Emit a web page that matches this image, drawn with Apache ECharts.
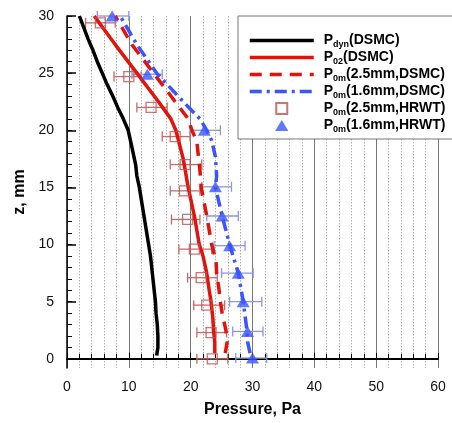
<!DOCTYPE html>
<html>
<head>
<meta charset="utf-8">
<script src="https://cdn.jsdelivr.net/npm/echarts@6/dist/echarts.min.js"></script>
<style>
html, body { margin: 0; padding: 0; background: #fff; }
#main { width: 452px; height: 423px; }
</style>
</head>
<body>
<div id="main"></div>
<script>
// P_dyn (DSMC)
var dynZ = [0.3, 1, 2, 3, 4, 5, 6, 7, 8, 9, 10, 11, 12, 13, 14, 15, 16, 17, 18, 19, 20, 21, 22, 23, 24, 25, 26, 27, 28, 29, 30];
var dynP = [14.5, 14.7, 14.7, 14.6, 14.4, 14.3, 14.1, 13.9, 13.7, 13.5, 13.2, 12.9, 12.6, 12.3, 12.0, 11.7, 11.3, 11.1, 10.7, 10.3, 9.9, 9.1, 8.2, 7.4, 6.5, 5.7, 4.9, 4.2, 3.4, 2.7, 2.0];
// P_02 (DSMC)
var p02Z = [0.5, 1.5, 2.5, 3.5, 5, 6, 7.5, 9, 10, 12.5, 15, 17.5, 20, 21, 22.5, 25, 27.5, 30];
var p02P = [23.9, 23.9, 23.7, 23.6, 23.3, 23.0, 22.6, 22.0, 21.4, 20.6, 19.6, 18.8, 17.6, 16.8, 14.8, 11.3, 7.8, 4.4];
// P_0m 2.5mm (DSMC)
var m25Z = [0.5, 1.5, 2.5, 4, 5, 6, 7.5, 8.6, 10, 12.5, 15, 16.5, 17.5, 19, 20, 21, 22.5, 25, 27.5, 30];
var m25P = [25.6, 25.9, 25.7, 25.1, 24.8, 24.6, 24.2, 24.1, 23.4, 22.6, 21.7, 21.5, 21.3, 21.0, 20.2, 19.6, 17.5, 14.0, 10.5, 7.8];
// P_0m 1.6mm (DSMC)
var m16Z = [0.5, 1.5, 2.5, 5, 7.5, 10, 12.5, 15, 16, 17.7, 19.1, 20, 21, 22.5, 25, 27.5, 30];
var m16P = [29.6, 29.2, 29.1, 28.5, 27.7, 26.3, 25.1, 24.0, 24.2, 24.0, 23.4, 22.6, 21.5, 18.8, 14.5, 11.3, 8.6];
// P_0m 2.5mm (HRWT) with error bars
var sqZ = [29.4, 24.7, 22.0, 19.45, 17.0, 14.7, 12.2, 9.6, 7.1, 4.7, 2.3, 0.0];
var sqP = [5.4, 10.0, 13.6, 17.5, 19.1, 19.0, 19.5, 20.6, 21.7, 22.6, 23.3, 23.5];
var sqLo = [3.0, 7.6, 11.3, 15.4, 16.7, 16.7, 16.9, 18.1, 19.5, 20.5, 21.0, 21.0];
var sqHi = [7.8, 12.0, 16.2, 19.9, 21.8, 21.5, 21.5, 23.4, 24.3, 25.5, 25.8, 26.0];
// P_0m 1.6mm (HRWT) with error bars
var triZ = [30.0, 24.9, 20.0, 15.05, 12.5, 9.9, 7.5, 5.0, 2.4, 0.07];
var triP = [7.3, 13.0, 22.2, 24.0, 25.1, 26.3, 27.7, 28.5, 29.2, 30.0];
var triLo = [4.9, 10.5, 19.9, 21.8, 22.6, 23.8, 25.0, 26.3, 26.8, 27.3];
var triHi = [10.0, 15.4, 24.8, 26.6, 27.7, 28.8, 30.1, 31.5, 31.7, 32.3];

var xTicks = [0, 10, 20, 30, 40, 50, 60];
var yTicks = [0, 5, 10, 15, 20, 25, 30];
var yMinor = [];
for (var i = 0; i <= 30; i++) yMinor.push(i);

var RED = '#e3120b', BLUE = '#3a55ff';

function pairs(p, z) {
	return p.map(function(v, i) { return [v, z[i]]; });
}
function errData(z, lo, hi) {
	return z.map(function(v, i) { return [z[i], lo[i], hi[i]]; });
}
function errRender(color) {
	return function(params, api) {
		var z = api.value(0);
		var a = api.coord([api.value(1), z]);
		var b = api.coord([api.value(2), z]);
		var h = 5;
		var st = { stroke: color, lineWidth: 1.3 };
		return {
			type: 'group',
			children: [
				{ type: 'line', shape: { x1: a[0], y1: a[1], x2: b[0], y2: b[1] }, style: st },
				{ type: 'line', shape: { x1: a[0], y1: a[1] - h, x2: a[0], y2: a[1] + h }, style: st },
				{ type: 'line', shape: { x1: b[0], y1: b[1] - h, x2: b[0], y2: b[1] + h }, style: st }
			]
		};
	};
}

var legendRich = {
	m: { fontSize: 14, fontWeight: 'bold', fontFamily: 'Liberation Sans', color: '#000', lineHeight: 14 },
	s: { fontSize: 9, fontWeight: 'bold', fontFamily: 'Liberation Sans', color: '#000', lineHeight: 10, padding: [8, 0, 0, 0] }
};
var legendText = {
	'Pdyn(DSMC)': '{m|P}{s|dyn}{m|(DSMC)}',
	'P02(DSMC)': '{m|P}{s|02}{m|(DSMC)}',
	'P0m(2.5mm,DSMC)': '{m|P}{s|0m}{m|(2.5mm,DSMC)}',
	'P0m(1.6mm,DSMC)': '{m|P}{s|0m}{m|(1.6mm,DSMC)}',
	'P0m(2.5mm,HRWT)': '{m|P}{s|0m}{m|(2.5mm,HRWT)}',
	'P0m(1.6mm,HRWT)': '{m|P}{s|0m}{m|(1.6mm,HRWT)}'
};
var noDot = { color: 'rgba(0,0,0,0)', borderColor: 'rgba(0,0,0,0)', borderWidth: 0, opacity: 0 };

var chart = echarts.init(document.getElementById('main'));
chart.setOption({
	animation: false,
	backgroundColor: '#fff',
	grid: { left: 67, right: 14, top: 16, bottom: 46 },
	legend: {
		left: 238,
		top: 16,
		orient: 'vertical',
		backgroundColor: '#fff',
		borderColor: '#777',
		borderWidth: 1,
		padding: [16, 11, 5, 10],
		itemGap: 0,
		itemWidth: 64,
		itemHeight: 11,
		lineStyle: { width: 3.5 },
		data: [
			{ name: 'Pdyn(DSMC)', itemStyle: noDot },
			{ name: 'P02(DSMC)', itemStyle: noDot },
			{ name: 'P0m(2.5mm,DSMC)', itemStyle: noDot },
			{ name: 'P0m(1.6mm,DSMC)', itemStyle: noDot },
			{ name: 'P0m(2.5mm,HRWT)', icon: 'path://M0,0H10V10H0Z' },
			{ name: 'P0m(1.6mm,HRWT)', icon: 'path://M6,0L12,10H0Z' }
		],
		formatter: function(name) { return legendText[name]; },
		textStyle: { rich: legendRich, padding: [0, 0, 0, 5] }
	},
	xAxis: {
		type: 'value',
		min: 0,
		max: 60,
		interval: 10,
		name: 'Pressure, Pa',
		nameLocation: 'middle',
		nameGap: 34,
		nameTextStyle: { fontSize: 16, fontWeight: 'bold', fontFamily: 'Liberation Sans', color: '#000' },
		axisLine: { lineStyle: { color: '#000', width: 2 } },
		axisTick: { inside: true, length: 6, lineStyle: { color: '#000' } },
		minorTick: { show: true, splitNumber: 5, length: 5, lineStyle: { color: '#000' } },
		axisLabel: { fontSize: 14, fontFamily: 'Liberation Sans', color: '#111', margin: 12 },
		splitLine: { show: true, lineStyle: { color: '#777', width: 1 } },
		minorSplitLine: { show: true, lineStyle: { color: '#b0b0b0', type: [1.5, 1.5], width: 1 } }
	},
	yAxis: [{
		type: 'value',
		min: -0.8,
		max: 30,
		name: 'z, mm',
		nameLocation: 'middle',
		nameGap: 32,
		nameTextStyle: { fontSize: 16, fontWeight: 'bold', fontFamily: 'Liberation Sans', color: '#000' },
		axisLine: { show: true, lineStyle: { color: '#000', width: 1.5 } },
		axisTick: { show: true, inside: true, length: 9, customValues: yTicks, lineStyle: { color: '#000', width: 1.5 } },
		axisLabel: { fontSize: 14, fontFamily: 'Liberation Sans', color: '#111', margin: 13, customValues: yTicks },
		splitLine: { show: false }
	}, {
		type: 'value',
		position: 'left',
		min: -0.8,
		max: 30,
		axisLine: { show: false },
		axisTick: { show: true, inside: true, length: 5, customValues: yMinor, lineStyle: { color: '#000' } },
		axisLabel: { show: false },
		splitLine: { show: false }
	}],
	series: [{
		name: 'sqErr',
		type: 'custom',
		renderItem: errRender('#c96a6a'),
		encode: { x: [1, 2], y: 0 },
		data: errData(sqZ, sqLo, sqHi),
		z: 1
	}, {
		name: 'triErr',
		type: 'custom',
		renderItem: errRender('#8a96e6'),
		encode: { x: [1, 2], y: 0 },
		data: errData(triZ, triLo, triHi),
		z: 1
	}, {
		name: 'Pdyn(DSMC)',
		type: 'line',
		symbol: 'none',
		lineStyle: { color: '#000', width: 3.5 },
		itemStyle: { color: '#000' },
		data: pairs(dynP, dynZ),
		z: 2
	}, {
		name: 'P02(DSMC)',
		type: 'line',
		symbol: 'none',
		lineStyle: { color: RED, width: 3.5 },
		itemStyle: { color: RED },
		data: pairs(p02P, p02Z),
		z: 2
	}, {
		name: 'P0m(2.5mm,DSMC)',
		type: 'line',
		symbol: 'none',
		lineStyle: { color: RED, width: 3.5, type: [12, 8] },
		itemStyle: { color: RED },
		data: pairs(m25P, m25Z),
		z: 2
	}, {
		name: 'P0m(1.6mm,DSMC)',
		type: 'line',
		symbol: 'none',
		lineStyle: { color: BLUE, width: 3.5, type: [12, 5, 3, 5] },
		itemStyle: { color: BLUE },
		data: pairs(m16P, m16Z),
		z: 2
	}, {
		name: 'P0m(2.5mm,HRWT)',
		type: 'scatter',
		symbol: 'rect',
		symbolSize: 10,
		itemStyle: { color: 'rgba(255,255,255,0)', borderColor: '#c0504d', borderWidth: 1.3 },
		data: pairs(sqP, sqZ),
		z: 3
	}, {
		name: 'P0m(1.6mm,HRWT)',
		type: 'scatter',
		symbol: 'triangle',
		symbolSize: [13, 11],
		itemStyle: { color: BLUE },
		data: pairs(triP, triZ),
		z: 3
	}]
});
</script>
</body>
</html>
